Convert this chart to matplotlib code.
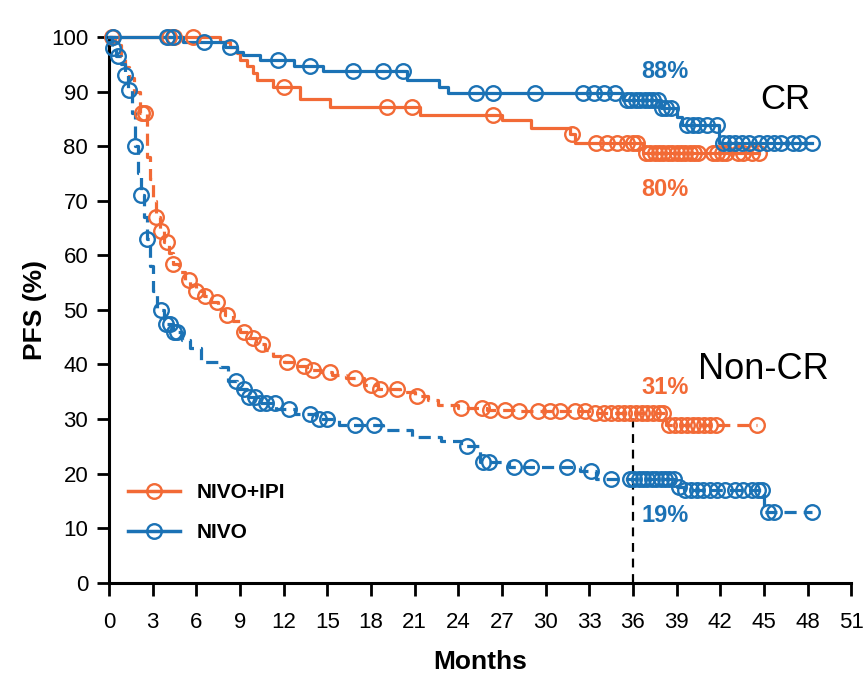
import numpy as np
import matplotlib
matplotlib.use("Agg")
import matplotlib.pyplot as plt
from matplotlib.lines import Line2D

plt.rcParams["font.family"] = ["Liberation Sans", "DejaVu Sans"]

ORANGE = "#F26A36"
BLUE = "#1B72B5"

# CR, NIVO+IPI (solid orange)
cr_combo_t = [0, 7.6, 8.3, 8.8, 9.0, 9.5, 9.9, 10.2, 11.3, 13.1,
              15.2, 21.4, 27.0, 29.0, 31.7, 32.0, 36.7]
cr_combo_s = [100, 99.1, 98.2, 97.0, 95.8, 94.6, 93.4, 92.1, 90.9, 88.7,
              87.1, 85.7, 84.8, 83.3, 82.2, 80.5, 78.7]
cr_combo_end = 44.7
cr_combo_cens = [0.2, 4.1, 4.5, 5.8, 12.0, 19.1, 20.8, 26.4, 31.8, 33.5,
                 34.2, 34.9, 35.6, 36.0, 36.3, 36.9, 37.2, 37.5, 37.8, 38.1,
                 38.4, 38.7, 39.0, 39.3, 39.6, 39.9, 40.2, 40.5, 41.5, 41.8,
                 42.1, 42.4, 43.2, 43.6, 44.2, 44.7]

# CR, NIVO (solid blue)
cr_nivo_t = [0, 5.1, 8.0, 8.8, 9.2, 10.4, 12.7, 14.7, 20.5, 22.7,
             23.3, 35.3, 37.9, 39.0, 39.4, 41.9]
cr_nivo_s = [100, 99.1, 98.2, 97.3, 96.7, 95.8, 94.6, 93.7, 92.1, 90.9,
             89.7, 88.5, 87.0, 85.4, 83.9, 80.6]
cr_nivo_end = 48.3
cr_nivo_cens = [0.3, 4.0, 4.4, 6.5, 8.3, 11.6, 13.8, 16.8, 18.8, 20.2,
                25.2, 26.4, 29.3, 32.6, 33.3, 34.0, 34.8, 35.6, 35.9, 36.2,
                36.5, 36.8, 37.1, 37.4, 37.7, 38.0, 38.3, 38.6, 39.7, 40.1,
                40.5, 41.1, 41.8, 42.2, 42.6, 43.0, 43.5, 44.0, 44.7, 45.2,
                45.7, 46.2, 47.0, 47.4, 48.3]

# Non-CR, NIVO+IPI (dashed orange)
ncr_combo_t = [0, 0.4, 0.8, 1.1, 1.4, 1.7, 2.1, 2.6, 2.8, 3.0,
               3.2, 3.5, 3.8, 4.1, 4.4, 4.8, 5.2, 5.6, 6.0, 6.5,
               7.0, 7.5, 8.0, 8.5, 9.0, 9.6, 10.1, 10.7, 11.3, 12.0,
               12.7, 13.6, 14.6, 15.3, 16.3, 17.5, 18.5, 20.0, 21.0, 21.9,
               22.6, 24.0, 26.0, 28.0, 33.0, 38.3]
ncr_combo_s = [100, 98.5, 96.5, 94.5, 92.5, 90, 86, 78, 74, 70,
               67, 64.5, 62.5, 60.5, 58.5, 57, 55.5, 54.5, 53.5, 52.5,
               51.5, 50, 49, 48, 46, 44.8, 43.8, 42.6, 41.5, 40.5,
               39.7, 39, 38.6, 38, 37.5, 36.3, 35.6, 35, 34.3, 33.5,
               32.5, 32.0, 31.7, 31.5, 31.2, 29]
ncr_combo_end = 44.5
ncr_combo_cens = [2.3, 2.5, 3.2, 3.6, 4.0, 4.4, 5.5, 6.0, 6.6, 7.4,
                  8.1, 9.3, 9.9, 10.5, 12.2, 13.4, 14.0, 15.2, 16.9, 18.0,
                  18.6, 19.8, 21.2, 24.2, 25.6, 26.2, 27.2, 28.2, 29.5, 30.3,
                  31.0, 32.0, 32.7, 33.4, 34.0, 34.5, 35.0, 35.4, 35.8, 36.2,
                  36.6, 37.0, 37.4, 37.8, 38.1, 38.5, 38.9, 39.3, 39.7, 40.1,
                  40.5, 40.9, 41.3, 41.7, 44.5]

# Non-CR, NIVO (dashed blue)
ncr_nivo_t = [0, 0.2, 0.5, 0.8, 1.1, 1.3, 1.6, 1.8, 2.0, 2.2,
              2.4, 2.6, 2.8, 3.0, 3.3, 3.8, 4.4, 5.0, 5.6, 6.3,
              7.6, 8.2, 8.8, 9.5, 10.4, 11.5, 12.8, 14.2, 15.8, 18.8,
              20.8, 22.8, 24.2, 25.5, 27.5, 32.4, 33.5, 39.0, 39.5, 45.0]
ncr_nivo_s = [100, 98, 96.5, 95, 93, 90.3, 86, 80, 75, 71,
              67, 63, 58, 53.5, 50, 47.5, 46, 44.5, 43, 40.5,
              39.5, 37, 35.5, 34, 33, 31.8, 31, 30, 29, 28,
              26.7, 26, 25, 22.2, 21.2, 20.5, 19.0, 17.6, 17.0, 13.0]
ncr_nivo_end = 48.3
ncr_nivo_cens = [0.3, 0.6, 1.1, 1.4, 1.8, 2.2, 2.6, 3.6, 3.9, 4.2,
                 4.5, 4.7, 8.7, 9.3, 9.6, 10.0, 10.4, 10.8, 11.4, 12.4,
                 13.8, 14.4, 15.0, 16.9, 18.2, 24.6, 25.7, 26.1, 27.8, 29.0,
                 31.5, 33.1, 34.5, 35.8, 36.1, 36.4, 36.7, 37.0, 37.3, 37.6,
                 37.9, 38.2, 38.5, 38.8, 39.2, 39.6, 40.0, 40.4, 40.8, 41.3,
                 41.8, 42.3, 43.0, 43.6, 44.2, 44.6, 44.9, 45.3, 45.7, 48.3]

landmark = 36
landmark_labels = [("88%", 93.6, BLUE), ("80%", 72.0, ORANGE),
                   ("31%", 35.8, ORANGE), ("19%", 12.4, BLUE)]


def km(ax, t, s, end, cens, color, ls):
    t = list(t) + [end]
    s = list(s) + [s[-1]]
    ax.step(t, s, where="post", color=color, lw=2.3, ls=ls, clip_on=False,
            dashes=(3.8, 2.2) if ls == "--" else (None, None), zorder=3)
    # censor marks sit on the curve value at each censoring time
    idx = np.searchsorted(np.array(t[:-1]), cens, side="right") - 1
    ys = np.array(s[:-1])[idx]
    ax.plot(cens, ys, ls="none", marker="o", ms=10.5, mfc="none", mec=color,
            mew=1.7, clip_on=False, zorder=4)


fig = plt.figure(figsize=(8.65, 6.73), dpi=100)
ax = fig.add_axes([0.126, 0.134, 0.858, 0.811])

km(ax, cr_combo_t, cr_combo_s, cr_combo_end, cr_combo_cens, ORANGE, "-")
km(ax, ncr_combo_t, ncr_combo_s, ncr_combo_end, ncr_combo_cens, ORANGE, "--")
km(ax, ncr_nivo_t, ncr_nivo_s, ncr_nivo_end, ncr_nivo_cens, BLUE, "--")
km(ax, cr_nivo_t, cr_nivo_s, cr_nivo_end, cr_nivo_cens, BLUE, "-")

ax.plot([landmark, landmark], [0, 31], color="black", lw=1.6, ls=(0, (4, 3)), zorder=2)

for txt, y, c in landmark_labels:
    ax.text(38.2, y, txt, color=c, fontsize=17, fontweight="bold", ha="center", va="center")
ax.text(46.5, 88.5, "CR", fontsize=25, ha="center", va="center")
ax.text(45.0, 39.0, "Non-CR", fontsize=26, ha="center", va="center")

ax.set_xlim(0, 51)
ax.set_ylim(0, 100)
ax.set_xticks(np.arange(0, 52, 3))
ax.set_yticks(np.arange(0, 101, 10))
ax.tick_params(axis="both", labelsize=16, width=2, length=9, direction="out")
ax.tick_params(axis="x", pad=12)
ax.tick_params(axis="y", pad=6)
for side in ("top", "right"):
    ax.spines[side].set_visible(False)
for side in ("left", "bottom"):
    ax.spines[side].set_linewidth(2.2)
ax.set_xlabel("Months", fontsize=19, fontweight="bold", labelpad=12)
ax.set_ylabel("PFS (%)", fontsize=19, fontweight="bold", labelpad=3)

handles = [Line2D([], [], color=ORANGE, lw=2.5, marker="o", ms=10.5, mfc="none", mew=1.7),
           Line2D([], [], color=BLUE, lw=2.5, marker="o", ms=10.5, mfc="none", mew=1.7)]
leg = ax.legend(handles, ["NIVO+IPI", "NIVO"], loc="lower left", bbox_to_anchor=(0.0, 0.04),
                frameon=False, handlelength=2.5, labelspacing=1.0, handletextpad=0.8,
                prop={"size": 15, "weight": "bold"})

fig.savefig("out.png", dpi=100)
